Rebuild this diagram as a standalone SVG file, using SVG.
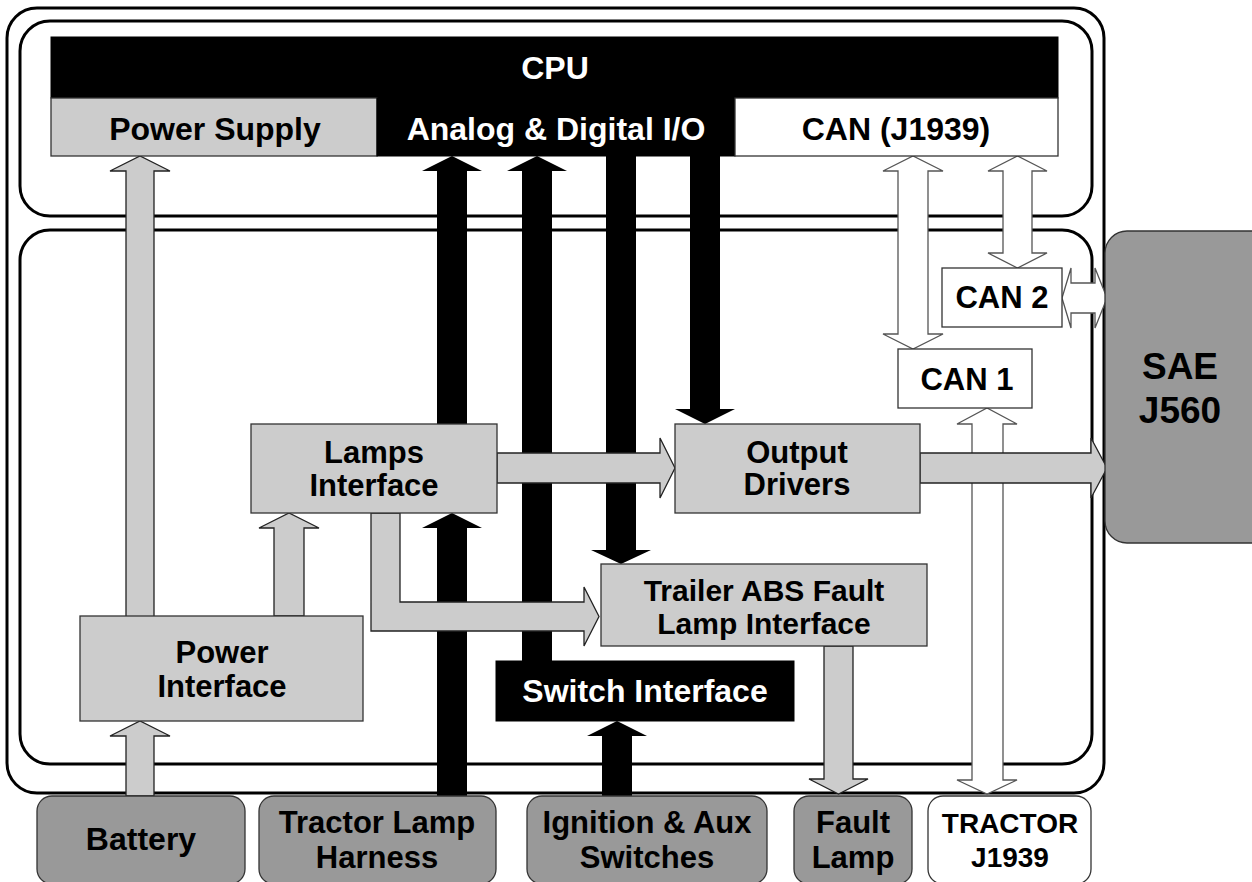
<svg xmlns="http://www.w3.org/2000/svg" width="1252" height="882" viewBox="0 0 1252 882">
<style>
.frame{fill:none;stroke:#000;stroke-width:3}
.lg{fill:#cccccc;stroke:#333;stroke-width:1.3}
.dg{fill:#999999;stroke:#333;stroke-width:1.3}
.wb{fill:#fff;stroke:#333;stroke-width:1.3}
.bk{fill:#000;stroke:#000;stroke-width:1}
.ga{fill:#cccccc;stroke:#222;stroke-width:1.3}
.wa{fill:#fff;stroke:#555;stroke-width:1.3}
.ba{fill:#000}
text{font-family:"Liberation Sans",Arial,Helvetica,sans-serif;font-weight:bold;font-size:31px;text-anchor:middle;fill:#000}
.big{font-size:32px}
.w{fill:#fff}
</style>
<rect width="1252" height="882" fill="#fff"/>
<g id="frames">
<rect class="frame" x="7" y="8" width="1097" height="785" rx="30"/>
<rect class="frame" x="20" y="21" width="1072" height="195" rx="30"/>
<rect class="frame" x="20" y="230" width="1072" height="534" rx="30"/>
</g>
<g id="connectors-under">
<polygon class="ba" points="437,424 437,171 422,171 452,156 482,171 467,171 467,424"/>
<polygon class="ba" points="437,796 437,528 422,528 452,513 482,528 467,528 467,796"/>
<polygon class="ba" points="522,661 522,171 507,171 537,156 567,171 552,171 552,661"/>
<polygon class="ba" points="606,156 636,156 636,550 651,550 621,564 591,550 606,550"/>
<polygon class="ba" points="690,156 720,156 720,409 735,409 705,424 675,409 690,409"/>
<polygon class="ba" points="602,796 602,736 587,736 617,721 647,736 632,736 632,796"/>
<polygon class="wa" points="898,171 883,171 913,156 943,171 928,171 928,334 943,334 913,349 883,334 898,334"/>
<polygon class="wa" points="1003,171 988,171 1017.5,156 1047,171 1032,171 1032,253 1047,253 1017.5,268 988,253 1003,253"/>
<polygon class="wa" points="1071,283 1071,268 1062,298 1071,328 1071,313 1095,313 1095,328 1107,298 1095,268 1095,283"/>
<polygon class="wa" points="972,424 957,424 987,408 1017,424 1003,424 1003,780 1017,780 987,794 957,780 972,780"/>
</g>
<g id="connectors">
<polygon class="ga" points="126,617 126,171 110,171 140,156 170,171 154,171 154,617"/>
<polygon class="ga" points="126,796 126,736 110,736 140,721 170,736 154,736 154,796"/>
<polygon class="ga" points="274,616 274,528 259,528 289,513 319,528 304,528 304,616"/>
<polygon class="ga" points="497,453 660,453 660,438 675,468 660,498 660,483 497,483"/>
<polygon class="ga" points="920,453 1091,453 1091,438 1107,468 1091,498 1091,483 920,483"/>
<polygon class="ga" points="371,513 400,513 400,602 584,602 584,587 599,616.5 584,646 584,631 371,631"/>
<polygon class="ga" points="824,646 853,646 853,779 868,779 838.5,794 809,779 824,779"/>
</g>
<g id="cpu">
<rect class="bk" x="51" y="37" width="1007" height="61"/>
<text class="w big" x="555" y="79">CPU</text>
</g>
<g id="power-supply">
<rect class="lg" x="51" y="98" width="326" height="58"/>
<text class="big" x="215" y="140">Power Supply</text>
</g>
<g id="analog-io">
<rect class="bk" x="377" y="98" width="358" height="58"/>
<text class="w big" x="556" y="140">Analog &amp; Digital I/O</text>
</g>
<g id="can-j1939">
<rect class="wb" x="735" y="98" width="323" height="58"/>
<text class="big" x="896" y="140">CAN (J1939)</text>
</g>
<g id="can2">
<rect class="wb" x="942" y="268" width="120" height="59"/>
<text x="1002" y="308">CAN 2</text>
</g>
<g id="can1">
<rect class="wb" x="898" y="349" width="134" height="59"/>
<text x="967" y="390">CAN 1</text>
</g>
<g id="sae-j560">
<rect class="dg" x="1105" y="231" width="170" height="312" rx="22"/>
<text x="1180" y="379" style="font-size:37px">SAE</text>
<text x="1180" y="423" style="font-size:37px">J560</text>
</g>
<g id="lamps-interface">
<rect class="lg" x="251" y="424" width="246" height="89"/>
<text x="374" y="463">Lamps</text>
<text x="374" y="496">Interface</text>
</g>
<g id="output-drivers">
<rect class="lg" x="675" y="424" width="245" height="89"/>
<text x="797" y="463">Output</text>
<text x="797" y="495">Drivers</text>
</g>
<g id="trailer-abs">
<rect class="lg" x="601" y="564" width="326" height="82"/>
<text x="764" y="601" style="font-size:30px">Trailer ABS Fault</text>
<text x="764" y="634" style="font-size:30px">Lamp Interface</text>
</g>
<g id="power-interface">
<rect class="lg" x="80" y="616" width="283" height="105"/>
<text x="222" y="663">Power</text>
<text x="222" y="697">Interface</text>
</g>
<g id="switch-interface">
<rect class="bk" x="496" y="661" width="298" height="60"/>
<text class="w big" x="645" y="702">Switch Interface</text>
</g>
<g id="battery">
<rect class="dg" x="37" y="796" width="208" height="88" rx="15"/>
<text class="big" x="141" y="850">Battery</text>
</g>
<g id="tractor-lamp-harness">
<rect class="dg" x="259" y="796" width="237" height="88" rx="15"/>
<text x="377" y="833">Tractor Lamp</text>
<text x="377" y="868">Harness</text>
</g>
<g id="ignition">
<rect class="dg" x="527" y="796" width="240" height="88" rx="15"/>
<text x="647" y="833">Ignition &amp; Aux</text>
<text x="647" y="868">Switches</text>
</g>
<g id="fault-lamp">
<rect class="dg" x="794" y="796" width="118" height="88" rx="15"/>
<text x="853" y="833">Fault</text>
<text x="853" y="868">Lamp</text>
</g>
<g id="tractor-j1939">
<rect class="wb" x="928" y="796" width="163" height="88" rx="15"/>
<text x="1010" y="833" style="font-size:28px">TRACTOR</text>
<text x="1010" y="867" style="font-size:28px">J1939</text>
</g>
</svg>
